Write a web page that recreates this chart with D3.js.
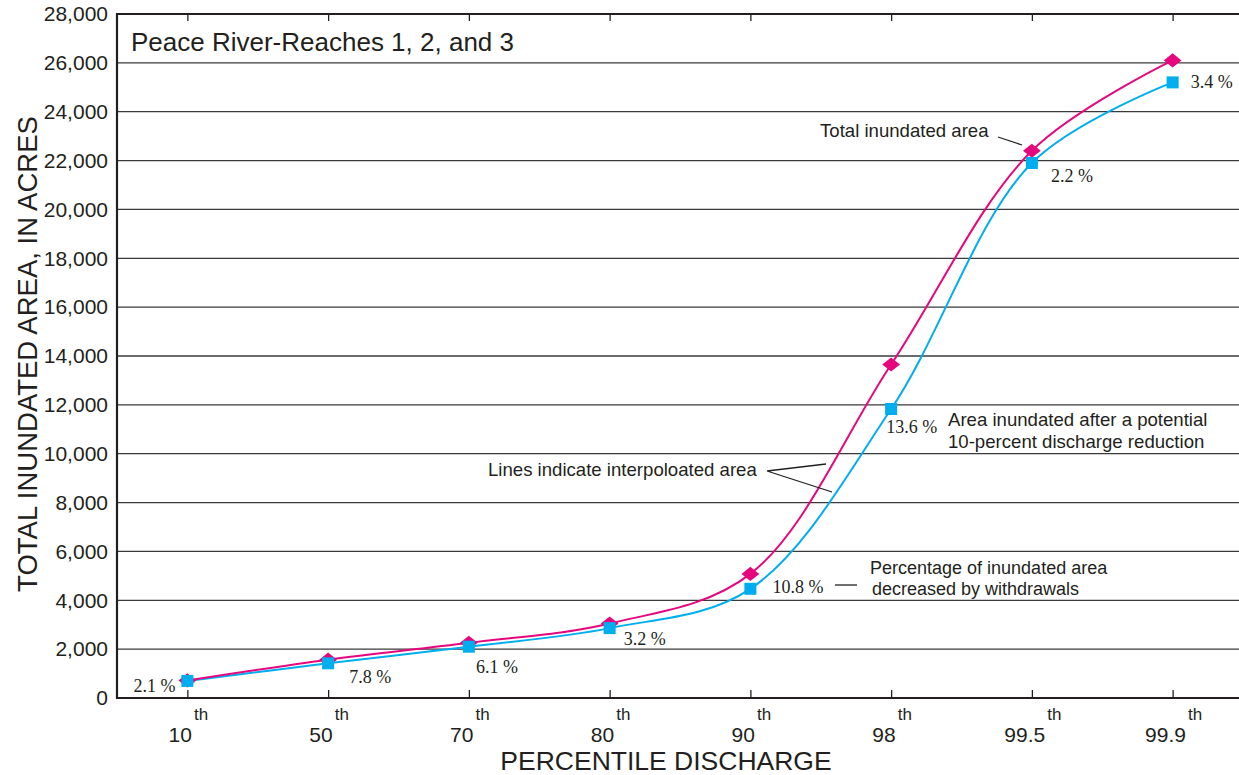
<!DOCTYPE html>
<html>
<head>
<meta charset="utf-8">
<script src="https://cdn.jsdelivr.net/npm/d3@7"></script>
<style>
  html, body { margin: 0; padding: 0; background: #fff; }
  svg { display: block; }
</style>
</head>
<body>
<svg id="chart" width="1239" height="775"></svg>
<script>
// ---- data ----
const categories = ["10", "50", "70", "80", "90", "98", "99.5", "99.9"];
const totalArea = [720, 1570, 2260, 3050, 5080, 13650, 22400, 26100];
const reducedArea = [700, 1420, 2100, 2860, 4470, 11830, 21900, 25200];
const pctLabels = ["2.1 %", "7.8 %", "6.1 %", "3.2 %", "10.8 %", "13.6 %", "2.2 %", "3.4 %"];
const yTicks = [0, 2000, 4000, 6000, 8000, 10000, 12000, 14000, 16000, 18000, 20000, 22000, 24000, 26000, 28000];

// ---- layout ----
const svg = d3.select("#chart");
const L = 117, R = 1243, T = 14, B = 698;
const sans = "'Liberation Sans', Arial, sans-serif";
const serif = "'Liberation Serif', 'Times New Roman', serif";
const magenta = "#E6077E", cyan = "#00AEEF", ink = "#231f20";

const x = d3.scalePoint().domain(categories).range([L, R]).padding(0.5);
const y = d3.scaleLinear().domain([0, 28000]).range([B, T]);

// gridlines
svg.append("g").selectAll("line").data(yTicks.filter(d => d > 0 && d < 28000)).join("line")
  .attr("x1", L).attr("x2", R).attr("y1", d => y(d)).attr("y2", d => y(d))
  .attr("stroke", "#3a3a3a").attr("stroke-width", 1.3);

// y axis
const yAxis = d3.axisLeft(y).tickValues(yTicks).tickSize(0).tickPadding(9)
  .tickFormat(d3.format(","));
const gy = svg.append("g").attr("transform", `translate(${L},0)`).call(yAxis);
gy.select(".domain").remove();
gy.selectAll("text").attr("font-family", sans).attr("font-size", 21).attr("fill", ink);

// x axis bottom (ticks inward)
const gx = svg.append("g").attr("transform", `translate(0,${B})`)
  .call(d3.axisBottom(x).tickSize(-8).tickFormat(""));
gx.select(".domain").remove();
gx.selectAll("line").attr("stroke", ink).attr("stroke-width", 1.3);
// x axis top ticks inward
const gt = svg.append("g").attr("transform", `translate(0,${T})`)
  .call(d3.axisTop(x).tickSize(-7).tickFormat(""));
gt.select(".domain").remove();
gt.selectAll("line").attr("stroke", ink).attr("stroke-width", 1.3);

// frame: left, top, bottom
svg.append("path")
  .attr("d", `M${R},${T}H${L}V${B}H${R}`)
  .attr("fill", "none").attr("stroke", ink).attr("stroke-width", 2.2);

// x tick labels with superscript "th"
const xl = svg.append("g").selectAll("text").data(categories).join("text")
  .attr("x", d => x(d) + 1).attr("y", 742)
  .attr("text-anchor", "middle").attr("font-family", sans).attr("fill", ink);
xl.append("tspan").attr("font-size", 21).text(d => d);
xl.append("tspan").attr("font-size", 17).attr("dx", 2).attr("dy", -22).text("th");

// axis titles
svg.append("text").attr("x", 666).attr("y", 770).attr("text-anchor", "middle")
  .attr("font-family", sans).attr("font-size", 26.5).attr("fill", ink)
  .text("PERCENTILE DISCHARGE");
svg.append("text").attr("transform", "translate(37,354) rotate(-90)").attr("text-anchor", "middle")
  .attr("font-family", sans).attr("font-size", 27.5).attr("fill", ink)
  .text("TOTAL INUNDATED AREA, IN ACRES");

// chart title
svg.append("text").attr("x", 131).attr("y", 51)
  .attr("font-family", sans).attr("font-size", 26).attr("fill", ink)
  .text("Peace River-Reaches 1, 2, and 3");

// lines
const line = vals => d3.line().x((d, i) => x(categories[i])).y(d => y(d)).curve(d3.curveCatmullRom.alpha(0.5))(vals);
svg.append("path").attr("d", line(reducedArea)).attr("fill", "none").attr("stroke", cyan).attr("stroke-width", 2);
svg.append("path").attr("d", line(totalArea)).attr("fill", "none").attr("stroke", magenta).attr("stroke-width", 2);

// markers
svg.append("g").selectAll("path").data(totalArea).join("path")
  .attr("transform", (d, i) => `translate(${x(categories[i])},${y(d)}) scale(1.2,0.95)`)
  .attr("d", d3.symbol(d3.symbolDiamond2, 140)())
  .attr("fill", magenta);
svg.append("g").selectAll("rect").data(reducedArea).join("rect")
  .attr("x", (d, i) => x(categories[i]) - 6).attr("y", d => y(d) - 6)
  .attr("width", 12).attr("height", 12).attr("fill", cyan);

// percentage labels (offsets from the reduced-area marker)
const pctOffsets = [[-54, 11], [21, 20], [7, 26], [14, 17], [22, 4], [-5, 24], [19, 19], [18, 6]];
svg.append("g").selectAll("text").data(pctLabels).join("text")
  .attr("x", (d, i) => x(categories[i]) + pctOffsets[i][0])
  .attr("y", (d, i) => y(reducedArea[i]) + pctOffsets[i][1])
  .attr("font-family", serif).attr("font-size", 18).attr("fill", ink)
  .text(d => d);

// annotations
const ann = svg.append("g").attr("font-family", sans).attr("font-size", 18.6).attr("fill", ink);
ann.append("text").attr("x", 820).attr("y", 137).text("Total inundated area");
ann.append("text").attr("x", 488).attr("y", 476).text("Lines indicate interpoloated area");
ann.append("text").attr("x", 948).attr("y", 426).text("Area inundated after a potential");
ann.append("text").attr("x", 948).attr("y", 448).text("10-percent discharge reduction");
ann.append("text").attr("x", 870).attr("y", 574).attr("font-size", 18).text("Percentage of inundated area");
ann.append("text").attr("x", 872).attr("y", 595).attr("font-size", 18).text("decreased by withdrawals");

const leaders = svg.append("g").attr("stroke", ink).attr("stroke-width", 1.3).attr("fill", "none");
leaders.append("path").attr("d", "M998,137L1022,145");
leaders.append("path").attr("d", "M767,471L826,464M767,471L832,492");
leaders.append("path").attr("d", "M835,585L857,585");
</script>
</body>
</html>
